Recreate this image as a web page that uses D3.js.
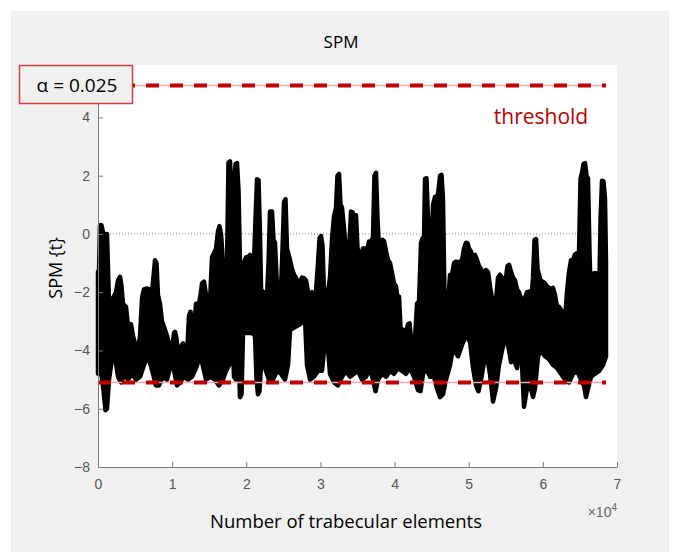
<!DOCTYPE html>
<html>
<head>
<meta charset="utf-8">
<script src="https://cdn.jsdelivr.net/npm/d3@7"></script>
<style>
  html, body { margin: 0; padding: 0; background: #fff; }
  svg { display: block; }
</style>
</head>
<body>
<svg id="chart" width="676" height="552"></svg>
<script>
// SPM{t} trajectory, read off the picture as the upper and lower edge of the trace
// [element index, t]
const upperEnvelope = [
  [0,-1.3],[140,-1.3],[270,0.31],[470,0.3],[720,0.0],[810,-0.4],[1080,0.0],[1210,0.0],
  [1480,-2.3],[1750,-2.4],[2020,-2.2],[2430,-2.0],[2700,-1.6],[2970,-1.47],[3170,-1.8],
  [3370,-2.4],[3780,-2.5],[4050,-3.2],[4450,-3.1],[4720,-3.5],[5130,-3.9],[5400,-4.0],
  [5670,-3.5],[5940,-2.2],[6200,-1.9],[6610,-1.87],[7010,-1.9],[7280,-2.0],[7550,-1.3],
  [7690,-0.9],[7890,-1.0],[8090,-2.1],[8360,-2.4],[8630,-3.0],[9040,-3.3],[9310,-3.5],
  [9710,-3.9],[9980,-4.0],[10250,-3.4],[10390,-3.36],[10590,-3.6],[10790,-4.1],[11060,-4.0],
  [11330,-3.8],[11470,-3.76],[11730,-4.2],[12000,-4.2],[12270,-2.8],[12480,-2.67],
  [12680,-3.3],[12950,-3.3],[13220,-2.4],[13620,-2.4],[13890,-2.0],[14030,-1.7],
  [14300,-1.64],[14570,-2.1],[14840,-2.2],[15110,-2.3],[15380,-0.8],[15650,-0.66],
  [15920,-0.5],[16190,0.1],[16390,0.27],[16590,0.0],[16730,-0.5],[17000,-1.9],[17200,-3.0],
  [17400,-1.0],[17600,2.45],[17800,2.49],[18010,1.5],[18280,1.3],[18550,2.4],[18750,2.43],
  [18950,1.5],[19150,-1.0],[19420,-1.1],[19690,-1.0],[19960,-0.8],[20230,-0.8],[20500,-0.72],
  [20770,-0.8],[21040,-1.0],[21240,0.5],[21450,1.88],[21650,1.85],[21850,0.0],[21990,-1.9],
  [22260,-2.0],[22530,-2.0],[22800,-2.1],[23000,-1.0],[23200,0.77],[23470,0.77],[23670,-0.2],
  [23870,-0.3],[24140,-1.8],[24410,-2.0],[24680,-1.9],[24890,-0.5],[25090,1.1],[25290,1.19],
  [25490,-0.5],[25700,-0.7],[25900,-0.9],[26170,-1.2],[26440,-1.4],[26710,-1.5],[26980,-1.7],
  [27250,-1.65],[27520,-1.5],[27790,-1.52],[28060,-1.6],[28330,-2.0],[28600,-2.1],
  [28860,-2.0],[29130,-2.05],[29400,-2.0],[29670,-1.0],[29880,-0.15],[30080,-0.07],
  [30280,-0.4],[30480,-2.0],[30750,-2.0],[31020,-2.0],[31290,-1.5],[31560,-0.2],[31830,0.6],
  [32100,0.9],[32300,2.0],[32510,2.06],[32710,1.0],[32910,0.9],[33180,0.2],[33450,-0.6],
  [33720,-1.1],[33920,-0.3],[34130,0.77],[34330,0.75],[34530,0.2],[34730,0.6],[34800,0.65],
  [35000,-0.5],[35200,-0.66],[35470,-0.8],[35740,-0.5],[36010,-0.5],[36280,-0.6],
  [36550,-0.26],[36820,-0.3],[37090,-0.1],[37290,2.0],[37500,2.1],[37700,0.5],[37900,-0.5],
  [38170,-0.5],[38370,-0.2],[38580,-0.25],[38850,-0.6],[39120,-0.9],[39390,-1.0],
  [39660,-1.35],[39920,-1.7],[40190,-1.8],[40400,-2.2],[40600,-2.15],[40800,-3.2],
  [41000,-3.3],[41270,-3.3],[41540,-3.4],[41810,-3.1],[42020,-3.07],[42220,-3.6],
  [42490,-3.64],[42760,-3.6],[43030,-2.4],[43300,-2.3],[43570,-0.3],[43770,-0.15],
  [43970,-0.2],[44110,1.9],[44310,1.91],[44510,0.5],[44710,-1.0],[44920,-0.8],[45190,1.0],
  [45460,1.28],[45720,1.2],[45930,1.5],[46130,2.0],[46330,2.03],[46530,1.2],[46740,-2.3],
  [46940,-2.4],[47210,-2.4],[47480,-1.4],[47750,-1.4],[48020,-1.0],[48290,-0.95],
  [48560,-1.0],[48830,-0.95],[49100,-0.9],[49370,-0.5],[49640,-0.3],[49840,-0.32],
  [50040,-0.5],[50310,-0.6],[50580,-0.9],[50850,-0.72],[51120,-0.9],[51390,-1.1],
  [51660,-1.2],[51930,-1.35],[52200,-1.58],[52330,-1.24],[52600,-1.3],[52870,-1.8],
  [53140,-2.2],[53410,-2.27],[53680,-2.3],[53950,-1.5],[54220,-1.4],[54490,-1.5],
  [54760,-2.2],[55030,-1.5],[55230,-1.1],[55440,-1.06],[55710,-1.3],[55980,-1.5],
  [56250,-1.6],[56510,-1.9],[56780,-2.0],[57050,-2.2],[57320,-2.4],[57590,-2.2],
  [57860,-2.0],[58130,-1.98],[58400,-2.5],[58670,-1.5],[58880,-0.2],[59080,-0.18],
  [59280,-1.2],[59480,-1.4],[59750,-1.65],[60020,-1.64],[60290,-1.7],[60560,-1.8],
  [60830,-1.85],[61100,-1.9],[61370,-1.85],[61640,-2.1],[61910,-2.5],[62180,-2.5],
  [62450,-2.6],[62720,-2.9],[62990,-2.9],[63260,-2.0],[63530,-1.3],[63800,-0.9],
  [64070,-0.9],[64340,-0.7],[64610,-0.66],[64880,-0.6],[65080,1.9],[65280,2.1],[65480,2.4],
  [65690,2.43],[65890,2.0],[66090,1.9],[66290,-0.6],[66500,-2.5],[66700,-2.4],[66900,-1.35],
  [67170,-1.35],[67370,-2.3],[67580,-2.3],[67780,0.5],[67980,1.83],[68180,1.8],[68380,1.2],
  [68520,-1.0]
];

const lowerEnvelope = [
  [0,-4.8],[400,-4.7],[670,-5.2],[1010,-6.05],[1210,-6.0],[1480,-5.0],[1890,-4.3],
  [2290,-4.2],[2700,-4.9],[3100,-5.1],[3640,-4.8],[4050,-5.0],[4590,-4.8],[5130,-5.0],
  [5670,-4.9],[6340,-4.4],[6880,-4.3],[7420,-4.8],[7820,-5.2],[8230,-5.2],[8770,-4.9],
  [9310,-5.0],[9710,-4.6],[10120,-4.5],[10660,-5.2],[11060,-5.1],[11600,-4.9],[12140,-5.0],
  [12680,-4.9],[13220,-4.6],[13620,-4.3],[14030,-4.4],[14570,-5.0],[15110,-4.9],
  [15780,-5.0],[16320,-5.2],[16860,-5.0],[17270,-4.7],[17670,-4.5],[18070,-3.0],
  [18340,-4.9],[18610,-5.0],[18950,-4.0],[19150,-5.6],[19360,-5.5],[19560,-3.4],
  [20100,-3.4],[20770,-3.4],[21180,-3.5],[21380,-5.0],[21580,-5.5],[21780,-5.4],
  [21990,-4.5],[22530,-4.6],[23060,-5.0],[23600,-5.0],[24140,-4.7],[24680,-4.8],
  [25220,-5.0],[25630,-4.5],[25900,-3.3],[26570,-3.2],[27250,-3.1],[27920,-2.9],
  [28190,-4.5],[28600,-5.0],[29130,-4.9],[29670,-4.7],[30210,-4.7],[30480,-4.0],
  [31020,-3.9],[31290,-4.8],[31830,-5.1],[32370,-5.2],[32910,-4.9],[33450,-4.7],
  [33990,-4.9],[34530,-4.8],[35070,-4.7],[35610,-5.0],[36150,-4.9],[36690,-4.6],
  [37090,-5.0],[37430,-5.4],[37770,-5.0],[38310,-4.8],[38850,-4.9],[39390,-4.7],
  [39920,-4.8],[40460,-4.6],[41000,-4.7],[41540,-4.8],[42080,-4.6],[42620,-4.9],
  [43160,-5.36],[43500,-5.4],[43840,-4.8],[44240,-4.6],[44780,-4.9],[45320,-4.9],
  [45720,-5.3],[46130,-5.6],[46530,-5.5],[46940,-5.0],[47480,-4.5],[47880,-3.9],
  [48560,-4.2],[49100,-3.8],[49640,-3.5],[50180,-3.7],[50580,-4.6],[50990,-5.2],
  [51320,-5.4],[51660,-5.0],[52060,-4.4],[52470,-4.2],[52870,-4.8],[53280,-5.75],
  [53680,-5.3],[54090,-4.5],[54490,-4.0],[54900,-3.6],[55300,-3.8],[55710,-4.4],
  [56110,-4.3],[56520,-4.6],[56920,-3.5],[57190,-4.5],[57460,-5.93],[57730,-5.5],
  [58130,-5.0],[58670,-5.6],[58940,-5.3],[59350,-4.2],[59750,-4.0],[60290,-4.2],
  [60830,-4.3],[61370,-4.5],[61910,-4.6],[62450,-4.8],[62990,-5.0],[63530,-5.1],
  [64070,-4.8],[64610,-4.7],[65150,-5.0],[65550,-5.2],[65820,-5.6],[66090,-5.3],
  [66500,-4.9],[67040,-4.8],[67580,-4.7],[68120,-4.5],[68520,-4.2]
];

const xTicks = [0, 1e4, 2e4, 3e4, 4e4, 5e4, 6e4, 7e4];
const yTicks = [-8, -6, -4, -2, 0, 2, 4];
const threshold = 5.1;      // critical t for alpha = 0.025
const alphaLabel = "α = 0.025";
const dataEnd = 68520;

const svg = d3.select("#chart");

// figure background
svg.append("rect")
  .attr("x", 11).attr("y", 11)
  .attr("width", 658).attr("height", 541)
  .attr("fill", "#f0f0f0");

const plot = { left: 98, right: 617, top: 65, bottom: 467 };

const x = d3.scaleLinear().domain([0, 7e4]).range([plot.left, plot.right]);
const y = d3.scaleLinear().domain([-8, 5.8]).range([plot.bottom, plot.top]);

// axes area
svg.append("rect")
  .attr("x", plot.left).attr("y", plot.top)
  .attr("width", plot.right - plot.left).attr("height", plot.bottom - plot.top)
  .attr("fill", "#fff");

// zero reference line
svg.append("line")
  .attr("x1", x(0)).attr("x2", x(dataEnd))
  .attr("y1", y(0)).attr("y2", y(0))
  .attr("stroke", "#808080")
  .attr("stroke-width", 1)
  .attr("stroke-dasharray", "1,2");

// trace: upper edge forward, lower edge back
const line = d3.line().x((d) => x(d[0])).y((d) => y(d[1]));
const band = upperEnvelope.concat(lowerEnvelope.slice().reverse());

svg.append("path")
  .attr("d", line(band) + "Z")
  .attr("fill", "#000")
  .attr("stroke", "#000")
  .attr("stroke-width", 4.5)
  .attr("stroke-linejoin", "round");

// threshold lines
[threshold, -threshold].forEach((t) => {
  svg.append("line")
    .attr("x1", x(0)).attr("x2", x(dataEnd))
    .attr("y1", y(t)).attr("y2", y(t))
    .attr("stroke", "#f4aaaa")
    .attr("stroke-width", 1.5);
  svg.append("line")
    .attr("x1", x(0)).attr("x2", x(dataEnd))
    .attr("y1", y(t)).attr("y2", y(t))
    .attr("stroke", "#c00000")
    .attr("stroke-width", 4)
    .attr("stroke-dasharray", "13,11");
});

// axes (MATLAB style: ticks inside, box off)
const axisColor = "#7a7a7a";
const tickFont = "'Liberation Sans', Arial, sans-serif";

const gx = svg.append("g")
  .attr("transform", `translate(0,${plot.bottom})`)
  .call(d3.axisBottom(x).tickValues(xTicks).tickFormat((d) => d / 1e4)
    .tickSizeInner(-5).tickSizeOuter(0).tickPadding(12));

const gy = svg.append("g")
  .attr("transform", `translate(${plot.left},0)`)
  .call(d3.axisLeft(y).tickValues(yTicks)
    .tickSizeInner(-5).tickSizeOuter(0).tickPadding(8));

[gx, gy].forEach((g) => {
  g.select(".domain").attr("stroke", axisColor);
  g.selectAll(".tick line").attr("stroke", axisColor);
  g.selectAll(".tick text")
    .attr("fill", "#555")
    .style("font-family", tickFont)
    .style("font-size", "14px");
});

// exponent label
const expo = svg.append("text")
  .attr("x", plot.right)
  .attr("y", 517)
  .attr("text-anchor", "end")
  .attr("fill", "#666")
  .style("font-family", tickFont)
  .style("font-size", "14px");
expo.append("tspan").text("×10");
expo.append("tspan").attr("dy", -6).style("font-size", "10px").text("4");

const labelFont = "'Open Sans', 'Noto Sans', sans-serif";

svg.append("text")
  .attr("x", 341).attr("y", 48)
  .attr("text-anchor", "middle")
  .style("font-family", labelFont)
  .style("font-size", "17px")
  .text("SPM");

svg.append("text")
  .attr("x", 346).attr("y", 528)
  .attr("text-anchor", "middle")
  .style("font-family", labelFont)
  .style("font-size", "18.5px")
  .text("Number of trabecular elements");

svg.append("text")
  .attr("transform", "translate(62,268) rotate(-90)")
  .attr("text-anchor", "middle")
  .style("font-family", labelFont)
  .style("font-size", "18px")
  .text("SPM {t}");

// annotations
svg.append("text")
  .attr("x", 541).attr("y", 124)
  .attr("text-anchor", "middle")
  .attr("fill", "#c00000")
  .style("font-family", labelFont)
  .style("font-size", "21px")
  .text("threshold");

svg.append("rect")
  .attr("x", 19.5).attr("y", 65.5)
  .attr("width", 113).attr("height", 38)
  .attr("fill", "#f0f0f0")
  .attr("stroke", "#d43c3c")
  .attr("stroke-width", 1.5);

svg.append("text")
  .attr("x", 77).attr("y", 92)
  .attr("text-anchor", "middle")
  .style("font-family", labelFont)
  .style("font-size", "19px")
  .text(alphaLabel);
</script>
</body>
</html>
